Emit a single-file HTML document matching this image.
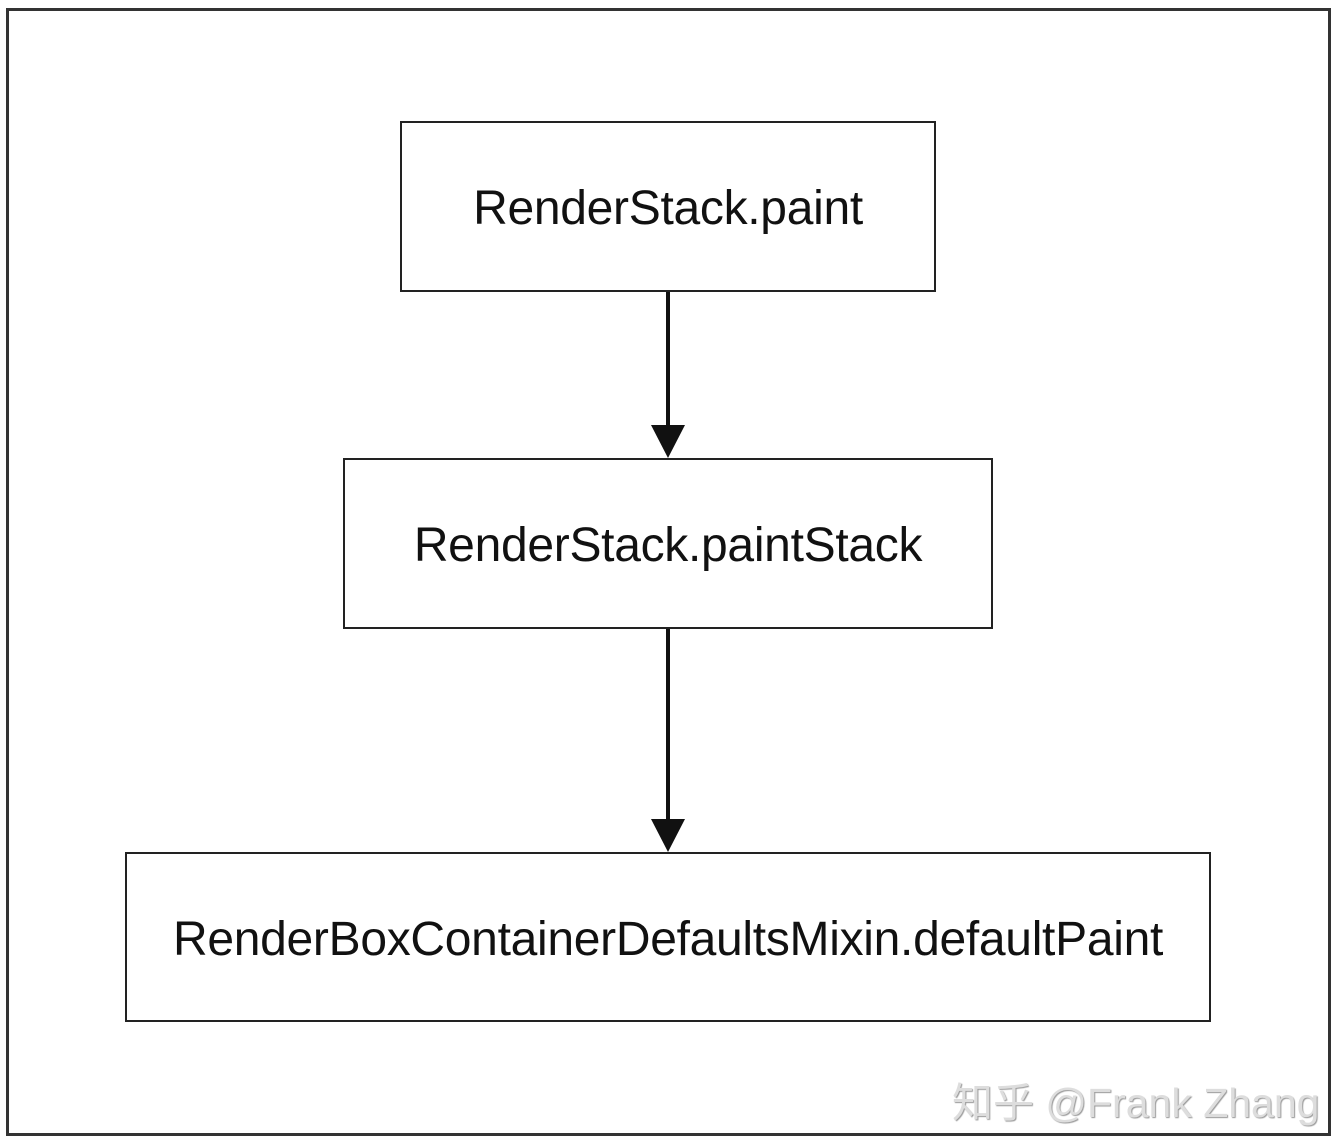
<!DOCTYPE html>
<html><head><style>
body{margin:0;width:1338px;height:1142px;background:#fff;position:relative;overflow:hidden;font-family:"Liberation Sans","Noto Sans CJK SC",sans-serif}
.b{position:absolute;border:2px solid #222;box-sizing:border-box;display:flex;align-items:center;justify-content:center;font-size:48px;color:#111;letter-spacing:-0.3px}
</style></head><body>
<div style="position:absolute;left:6px;top:8px;width:1325px;height:1128px;border:3px solid #333;box-sizing:border-box"></div>
<div class="b" style="left:400px;top:121px;width:536px;height:171px;padding-top:4px">RenderStack.paint</div>
<div class="b" style="left:343px;top:458px;width:650px;height:171px;padding-top:4px">RenderStack.paintStack</div>
<div class="b" style="left:125px;top:852px;width:1086px;height:170px;padding-top:4px">RenderBoxContainerDefaultsMixin.defaultPaint</div>
<svg width="1338" height="1142" style="position:absolute;left:0;top:0">
<line x1="668" y1="292" x2="668" y2="430" stroke="#111" stroke-width="4"/>
<polygon points="651,425 685,425 668,458" fill="#111"/>
<line x1="668" y1="629" x2="668" y2="824" stroke="#111" stroke-width="4"/>
<polygon points="651,819 685,819 668,852" fill="#111"/>
</svg>
<div style="position:absolute;left:952px;top:1069px;font-size:41px;color:#ddd;text-shadow:1px 1px 1px #999;white-space:nowrap">知乎 @Frank Zhang</div>
</body></html>
